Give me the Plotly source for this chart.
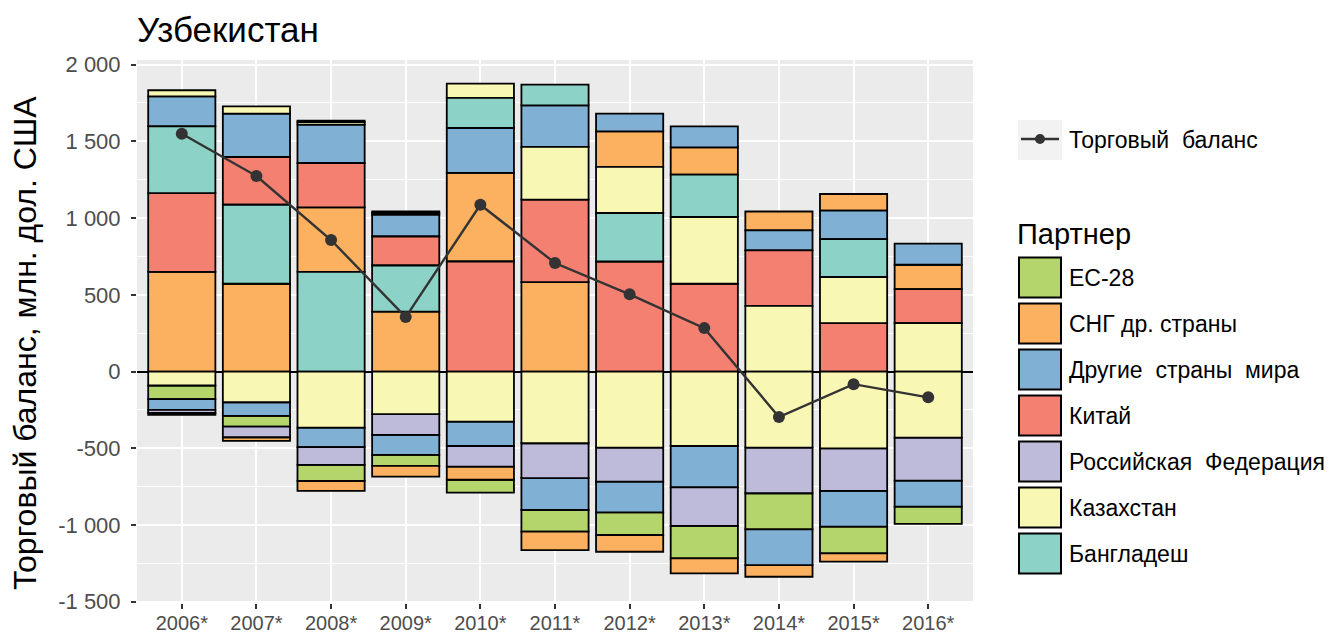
import numpy as np
import plotly.graph_objects as go

years = ["2006*", "2007*", "2008*", "2009*", "2010*", "2011*", "2012*", "2013*", "2014*", "2015*", "2016*"]
partners = ["ЕС-28", "СНГ др. страны", "Другие страны мира", "Китай",
            "Российская Федерация", "Казахстан", "Бангладеш"]
colors = ["#B3D56B", "#FBB15F", "#80B0D3", "#F48072", "#BEBADA", "#F9F7B4", "#8DD2C6"]

# positive contributions (млн. дол. США)
pos_eu   = [0, 0, 10, 9, 0, 0, 0, 0, 0, 0, 0]
pos_cis  = [650, 572, 420, 391, 577, 583, 232, 178, 123, 109, 159]
pos_oth  = [195, 283, 250, 142, 293, 271, 116, 137, 131, 185, 137]
pos_chn  = [513, 311, 289, 189, 717, 537, 717, 572, 361, 316, 221]
pos_rus  = [0, 0, 0, 0, 0, 0, 0, 0, 0, 0, 0]
pos_kaz  = [40, 47, 16, 12, 93, 344, 300, 435, 428, 300, 316]
pos_bgd  = [435, 515, 650, 300, 196, 135, 316, 276, 0, 247, 0]

# negative contributions (млн. дол. США)
neg_eu   = [-89, -70, -105, -72, -84, -141, -148, -211, -235, -174, -113]
neg_cis  = [-12, -24, -65, -70, -85, -120, -109, -98, -76, -54, 0]
neg_oth  = [-70, -89, -128, -130, -159, -207, -200, -269, -233, -233, -169]
neg_chn  = [0, 0, 0, 0, 0, 0, 0, 0, 0, 0, 0]
neg_rus  = [-20, -69, -115, -135, -135, -228, -221, -252, -297, -278, -281]
neg_kaz  = [-91, -200, -365, -278, -326, -467, -496, -485, -496, -500, -430]
neg_bgd  = [0, 0, 0, 0, 0, 0, 0, 0, 0, 0, 0]

balance = [1550, 1274, 857, 355, 1087, 707, 503, 283, -296, -82, -168]

ytick_vals = [2000, 1500, 1000, 500, 0, -500, -1000, -1500]
ytick_text = ["2 000", "1 500", "1 000", "500", "0", "-500", "-1 000", "-1 500"]

P = np.array([pos_eu, pos_cis, pos_oth, pos_chn, pos_rus, pos_kaz, pos_bgd], float)
N = np.array([neg_eu, neg_cis, neg_oth, neg_chn, neg_rus, neg_kaz, neg_bgd], float)


def stack_bases(M):
    B = np.zeros_like(M)
    for j in range(M.shape[1]):
        order = np.argsort(-np.abs(M[:, j]), kind="stable")
        cum = 0.0
        for i in order:
            B[i, j] = cum
            cum += M[i, j]
    return B


BP = stack_bases(P)
BN = stack_bases(N)

fig = go.Figure()
for M, B in ((P, BP), (N, BN)):
    for i, name in enumerate(partners):
        yv = [v if v != 0 else None for v in M[i]]
        fig.add_trace(go.Bar(
            x=years, y=yv, base=B[i], name=name, showlegend=False,
            marker=dict(color=colors[i], line=dict(color="black", width=1.8)),
            width=0.9, hoverinfo="x+y+name",
        ))

fig.add_trace(go.Scatter(
    x=years, y=balance, mode="lines+markers", name="Торговый баланс",
    showlegend=False,
    line=dict(color="#333333", width=2.4),
    marker=dict(color="#333333", size=12),
))

# plot area geometry in screen pixels (page is offset by 8px body margin)
L, R, T, B_ = 137, 973, 60, 603
W, H = R - L, B_ - T
OFF = 8
FIG_W, FIG_H = 1333, 635


def px(x):
    return (x - L) / W


def py(y):
    return (B_ - y) / H


shapes = []
annotations = []
font = "Liberation Sans, Arial, sans-serif"

# line legend
shapes.append(dict(type="rect", xref="paper", yref="paper", x0=px(1018), x1=px(1062),
                   y0=py(160), y1=py(120), fillcolor="#F2F2F2", line=dict(width=0)))
shapes.append(dict(type="line", xref="paper", yref="paper", x0=px(1021), x1=px(1059),
                   y0=py(139), y1=py(139), line=dict(color="#333333", width=2.4)))
shapes.append(dict(type="circle", xref="paper", yref="paper", x0=px(1035), x1=px(1045),
                   y0=py(144), y1=py(134), fillcolor="#333333", line=dict(width=0)))
annotations.append(dict(text="Торговый  баланс", xref="paper", yref="paper", x=px(1067), y=py(140),
                        xanchor="left", yanchor="middle", showarrow=False,
                        font=dict(size=23, color="black", family=font)))

annotations.append(dict(text="Партнер", xref="paper", yref="paper", x=px(1015), y=py(234),
                        xanchor="left", yanchor="middle", showarrow=False,
                        font=dict(size=29, color="black", family=font)))
for i, name in enumerate(partners):
    top = 256.5 + 46 * i
    shapes.append(dict(type="rect", xref="paper", yref="paper", x0=px(1019), x1=px(1061),
                       y0=py(top + 41), y1=py(top + 1), fillcolor=colors[i],
                       line=dict(color="black", width=2)))
    label = name.replace(" ", "  ") if name in ("Другие страны мира", "Российская Федерация") else name
    annotations.append(dict(text=label,
                            xref="paper", yref="paper", x=px(1067), y=py(top + 21),
                            xanchor="left", yanchor="middle", showarrow=False,
                            font=dict(size=23, color="black", family=font)))

annotations.append(dict(text="Торговый баланс, млн. дол. США", xref="paper", yref="paper",
                        x=px(25), y=py(343), textangle=-90, xanchor="center", yanchor="middle",
                        showarrow=False, font=dict(size=32, color="black", family=font)))

annotations.append(dict(text="Узбекистан", xref="paper", yref="paper",
                        x=px(135), y=py(30), xanchor="left", yanchor="middle",
                        showarrow=False, font=dict(size=35, color="black", family=font)))

fig.update_layout(
    width=FIG_W, height=FIG_H, autosize=False,
    barmode="overlay",
    paper_bgcolor="white", plot_bgcolor="#EBEBEB",
    margin=dict(l=L - OFF, r=FIG_W - (R - OFF), t=T - OFF,
                b=FIG_H - (B_ - OFF), pad=0),
    shapes=shapes, annotations=annotations,
    font=dict(family=font),
)
fig.update_xaxes(
    type="category", range=[-0.6, 10.6], showgrid=True, gridcolor="white", gridwidth=1.6,
    ticks="outside", ticklen=5, tickwidth=1.5, tickcolor="#333333",
    ticklabelstandoff=-3,
    tickfont=dict(family=font, size=20, color="#4D4D4D"),
    showline=False, zeroline=False, automargin=False,
)
fig.update_yaxes(
    range=[-1508, 2030], tickvals=ytick_vals, ticktext=ytick_text,
    showgrid=True, gridcolor="white", gridwidth=1.6,
    minor=dict(tickvals=[1750, 1250, 750, 250, -250, -750, -1250], showgrid=True,
               gridcolor="white", gridwidth=0.8, ticks=""),
    ticks="outside", ticklen=5, tickwidth=1.5, tickcolor="#333333",
    ticklabelstandoff=6,
    tickfont=dict(family=font, size=22, color="#4D4D4D"),
    zeroline=True, zerolinecolor="black", zerolinewidth=2,
    showline=False, automargin=False,
)

fig.write_html("out.html")
